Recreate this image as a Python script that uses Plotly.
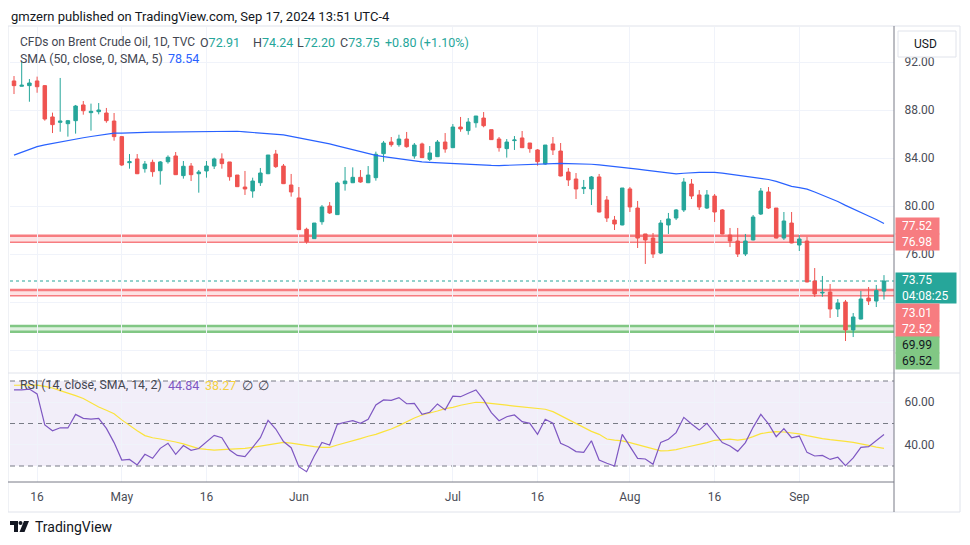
import plotly.graph_objects as go

# page has an 8px body margin; figure is sized to the remaining viewport
OFF = 8
W, H = 970 - OFF, 545 - OFF

def fx(px):
    return (px - OFF) / W

def fy(py):
    return 1 - (py - OFF) / H

# ---------------- DATA ----------------
bar_index = list(range(114))
tick_index = [3, 14, 25, 37, 57, 68, 80, 91, 102]
tick_labels = ["16", "May", "16", "Jun", "Jul", "16", "Aug", "16", "Sep"]

open_ = [90.42, 89.98, 90.03, 90.42, 90.03, 87.42, 86.97, 86.86, 87.11, 88.42,
         87.78, 87.86, 87.75, 87.08, 85.78, 83.61, 83.92, 83.11, 83.64, 82.94,
         83.69, 84.17, 82.53, 83.33, 82.69, 82.92, 83.33, 83.92, 83.67, 82.58,
         81.58, 81.25, 81.94, 82.69, 84.33, 83.33, 81.75, 80.67, 78.06, 77.28,
         78.69, 80.00, 79.28, 81.86, 81.94, 82.39, 81.94, 82.36, 84.36, 85.33,
         85.11, 85.58, 84.17, 85.17, 83.89, 84.11, 85.33, 84.86, 86.58, 86.28,
         86.94, 87.33, 86.36, 85.58, 84.78, 85.45, 85.67, 85.25, 84.67, 83.50,
         85.17, 84.58, 82.83, 82.25, 81.45, 81.42, 82.42, 80.50, 78.83, 78.42,
         81.42, 79.83, 77.67, 77.33, 76.08, 78.42, 79.00, 79.67, 81.83, 80.92,
         79.83, 80.83, 79.67, 77.58, 77.08, 76.00, 77.17, 79.33, 81.17, 79.83,
         77.33, 78.58, 76.75, 77.08, 73.75, 72.75, 72.83, 71.42, 72.00, 69.67,
         70.58, 72.33, 72.08, 72.91]
high = [90.83, 92.00, 90.58, 90.78, 90.08, 87.78, 90.67, 87.17, 88.42, 88.75,
        88.53, 88.58, 88.17, 87.75, 85.83, 84.33, 84.33, 83.75, 83.86, 83.75,
        84.22, 84.50, 83.75, 83.58, 83.00, 83.75, 84.03, 84.39, 83.67, 82.58,
        82.92, 82.36, 83.17, 84.25, 84.67, 83.50, 82.67, 81.58, 78.19, 78.58,
        80.08, 80.33, 82.03, 83.25, 83.22, 83.00, 83.33, 84.53, 85.42, 85.75,
        85.94, 86.17, 85.25, 85.28, 85.00, 85.50, 86.08, 86.83, 87.42, 87.33,
        87.50, 87.83, 86.36, 85.75, 85.58, 85.83, 86.25, 85.25, 84.75, 85.08,
        85.75, 85.25, 83.17, 82.75, 82.17, 82.50, 82.67, 80.83, 79.17, 81.50,
        81.58, 80.42, 77.67, 77.75, 78.83, 79.42, 79.75, 82.33, 82.25, 81.33,
        81.33, 81.00, 79.75, 78.17, 78.17, 77.67, 79.25, 81.50, 81.58, 79.83,
        79.50, 79.50, 77.58, 77.42, 74.83, 74.17, 73.50, 72.25, 72.17, 71.08,
        72.92, 73.25, 73.42, 74.24]
low = [89.33, 89.96, 88.69, 89.44, 87.11, 86.08, 86.19, 85.78, 86.03, 87.61,
       86.28, 87.64, 86.94, 85.44, 83.33, 83.11, 82.66, 82.78, 82.44, 81.78,
       83.53, 82.58, 82.28, 82.08, 81.11, 82.36, 83.08, 83.11, 82.11, 81.58,
       80.92, 80.69, 81.67, 82.66, 83.17, 81.83, 80.78, 78.00, 76.86, 77.25,
       78.44, 79.33, 79.25, 81.28, 81.91, 81.94, 81.91, 82.11, 83.69, 84.94,
       84.94, 84.86, 83.94, 84.00, 83.75, 84.08, 84.44, 84.83, 86.19, 85.94,
       86.53, 86.56, 85.50, 84.53, 84.03, 84.67, 84.83, 84.44, 83.36, 83.42,
       84.25, 82.47, 81.67, 80.58, 81.00, 80.08, 79.47, 78.67, 78.00, 78.39,
       79.50, 76.50, 75.17, 75.67, 76.00, 77.67, 78.83, 79.50, 80.58, 79.67,
       79.75, 78.67, 77.64, 76.58, 75.75, 75.83, 77.14, 79.25, 79.75, 77.30,
       77.17, 76.89, 76.25, 73.64, 72.42, 72.44, 70.67, 70.75, 68.75, 69.08,
       70.55, 71.75, 71.58, 72.20]
close = [90.03, 90.06, 90.25, 89.94, 87.25, 86.78, 87.08, 87.11, 88.33, 87.94,
         87.89, 88.00, 87.11, 85.78, 83.42, 83.69, 82.69, 83.50, 82.86, 83.67,
         84.06, 82.61, 83.31, 82.61, 82.83, 83.33, 83.92, 83.53, 82.44, 81.61,
         81.42, 82.08, 82.75, 84.25, 83.28, 81.86, 81.17, 78.03, 77.03, 78.58,
         79.92, 79.42, 81.92, 82.08, 82.39, 82.00, 82.58, 84.31, 85.25, 85.11,
         85.58, 84.94, 85.08, 84.03, 84.42, 85.33, 84.75, 86.58, 86.42, 87.00,
         87.50, 86.69, 85.53, 84.86, 85.33, 85.50, 84.86, 84.78, 83.69, 85.08,
         84.67, 82.50, 82.17, 81.42, 81.55, 82.42, 79.50, 79.00, 78.50, 81.50,
         79.92, 77.33, 77.17, 76.00, 78.58, 78.92, 79.67, 82.00, 80.83, 79.92,
         80.92, 79.50, 77.67, 77.08, 76.00, 77.08, 79.08, 81.25, 79.83, 77.33,
         78.75, 76.92, 77.25, 73.67, 72.67, 72.80, 71.42, 71.92, 69.67, 70.75,
         72.25, 72.08, 72.95, 73.75]
sma50 = [84.24, 84.47, 84.72, 84.95, 85.09, 85.22, 85.34, 85.47, 85.59, 85.69,
         85.79, 85.89, 85.99, 86.07, 86.08, 86.11, 86.13, 86.15, 86.15, 86.16,
         86.17, 86.18, 86.19, 86.20, 86.21, 86.23, 86.24, 86.26, 86.27, 86.23,
         86.18, 86.14, 86.09, 86.05, 86.00, 85.92, 85.80, 85.68, 85.56, 85.43,
         85.30, 85.18, 85.01, 84.85, 84.68, 84.52, 84.35, 84.22, 84.12, 84.02,
         83.93, 83.84, 83.76, 83.68, 83.64, 83.60, 83.57, 83.53, 83.50, 83.47,
         83.44, 83.41, 83.38, 83.37, 83.40, 83.42, 83.45, 83.48, 83.51, 83.53,
         83.54, 83.56, 83.53, 83.52, 83.50, 83.48, 83.42, 83.36, 83.29, 83.23,
         83.17, 83.08, 82.99, 82.90, 82.80, 82.70, 82.67, 82.73, 82.80, 82.81,
         82.81, 82.81, 82.74, 82.65, 82.55, 82.46, 82.38, 82.29, 82.21, 82.05,
         81.85, 81.64, 81.53, 81.41, 81.17, 80.92, 80.66, 80.37, 80.05, 79.73,
         79.44, 79.16, 78.88, 78.54]
rsi = [65.8, 65.8, 66.2, 63.9, 49.3, 46.6, 48.0, 47.9, 54.3, 52.4,
       52.1, 52.4, 47.7, 41.0, 32.8, 33.1, 30.5, 35.5, 33.6, 38.3,
       40.7, 35.5, 39.6, 37.4, 38.2, 41.5, 44.4, 43.3, 37.5, 35.0,
       34.4, 38.8, 43.3, 51.5, 47.4, 41.5, 38.6, 29.7, 27.3, 34.7,
       41.1, 39.9, 49.6, 50.6, 51.3, 50.1, 52.0, 58.7, 61.1, 60.9,
       62.2, 59.3, 59.5, 54.3, 55.3, 59.2, 56.4, 62.9, 62.6, 64.2,
       65.8, 61.1, 55.1, 51.3, 53.2, 54.0, 50.9, 50.1, 44.9, 52.0,
       50.1, 40.7, 39.1, 36.8, 36.4, 41.9, 32.8, 31.3, 30.0, 44.9,
       39.1, 33.6, 33.3, 30.8, 41.1, 42.6, 45.7, 52.9, 49.8, 46.9,
       50.1, 45.7, 41.0, 39.4, 36.9, 41.0, 48.2, 54.3, 49.8, 43.8,
       47.6, 43.3, 44.1, 36.4, 34.7, 35.0, 33.1, 34.1, 30.2, 33.8,
       38.8, 39.1, 41.9, 44.84]
rsi_sma = [68.0, 68.1, 68.1, 68.1, 67.5, 66.7, 65.5, 64.4, 63.1, 61.8,
           59.8, 57.8, 56.2, 54.6, 51.7, 49.0, 46.6, 44.3, 43.3, 42.7,
           42.1, 41.3, 40.4, 39.3, 38.2, 37.8, 37.5, 37.7, 37.8, 38.0,
           38.3, 38.8, 39.4, 40.2, 40.8, 41.1, 40.8, 40.2, 39.4, 39.1,
           38.8, 38.8, 39.9, 40.8, 41.9, 42.9, 44.0, 44.9, 46.2, 47.4,
           49.0, 50.9, 52.6, 54.0, 54.8, 55.9, 57.0, 57.6, 58.6, 59.3,
           60.0, 59.8, 59.3, 58.9, 58.6, 58.2, 57.8, 57.5, 57.1, 56.7,
           55.6, 53.8, 52.0, 50.1, 48.2, 46.3, 44.9, 42.7, 42.2, 41.8,
           41.0, 40.0, 38.9, 38.0, 37.1, 37.2, 37.7, 38.6, 39.4, 40.0,
           41.0, 42.1, 42.4, 42.6, 42.2, 42.6, 43.8, 45.2, 45.8, 46.2,
           46.0, 45.7, 45.1, 44.3, 43.5, 42.9, 42.4, 42.1, 41.6, 41.1,
           40.5, 39.7, 38.9, 38.27]
red_zone_a = [76.98, 77.52]
red_zone_b = [72.52, 73.01]
green_zone = [69.52, 69.99]
last_price = 73.75
rsi_levels = [70, 50, 30]
price_ticks = [68, 72, 76, 80, 84, 88, 92]
price_ticktext = ["", "", "76.00", "80.00", "84.00", "88.00", "92.00"]
rsi_ticks = [40, 60]
rsi_ticktext = ["40.00", "60.00"]

# ---------------- STYLE ----------------
GREEN = "#26a69a"
RED = "#ef5350"
BLUE = "#2962ff"
PURPLE = "#7e57c2"
YELLOW = "#fbe33b"
GRID = "#f0f3fa"
TXT = "#131722"
FONT = "Roboto"

X0, X1 = 10, 894          # plot area in page px
PY0, PY1 = 27, 372        # price pane
RY0, RY1 = 374, 482       # rsi pane
XR = [-0.52, 114.3]

fig = go.Figure()

fig.add_trace(go.Candlestick(
    x=bar_index, open=open_, high=high, low=low, close=close,
    increasing=dict(line=dict(color=GREEN, width=1), fillcolor=GREEN),
    decreasing=dict(line=dict(color=RED, width=1), fillcolor=RED),
    whiskerwidth=0, showlegend=False, hoverinfo="skip",
    xaxis="x", yaxis="y"))
fig.add_trace(go.Scatter(x=bar_index, y=sma50, mode="lines",
                         line=dict(color=BLUE, width=1.2), showlegend=False,
                         hoverinfo="skip", xaxis="x", yaxis="y"))
fig.add_trace(go.Scatter(x=bar_index, y=rsi_sma, mode="lines",
                         line=dict(color=YELLOW, width=1.2), showlegend=False,
                         hoverinfo="skip", xaxis="x2", yaxis="y2"))
fig.add_trace(go.Scatter(x=bar_index, y=rsi, mode="lines",
                         line=dict(color=PURPLE, width=1.2), showlegend=False,
                         hoverinfo="skip", xaxis="x2", yaxis="y2"))

shapes = []
dx0, dx1 = fx(X0), fx(X1)
for lo, hi_, lc, fc, wlo, whi in [
        (red_zone_a[0], red_zone_a[1], "#f77c80", "rgba(247,124,128,0.22)", 1.5, 2.5),
        (red_zone_b[0], red_zone_b[1], "#f77c80", "rgba(247,124,128,0.22)", 1.5, 2.5),
        (green_zone[0], green_zone[1], "#81c784", "rgba(129,199,132,0.25)", 2.5, 2.5)]:
    shapes.append(dict(type="rect", xref="paper", yref="y", x0=dx0, x1=dx1,
                       y0=lo, y1=hi_, fillcolor=fc, line=dict(width=0), layer="below"))
    shapes.append(dict(type="line", xref="paper", yref="y", x0=dx0, x1=dx1,
                       y0=hi_, y1=hi_, line=dict(color=lc, width=whi), layer="below"))
    shapes.append(dict(type="line", xref="paper", yref="y", x0=dx0, x1=dx1,
                       y0=lo, y1=lo, line=dict(color=lc, width=wlo), layer="below"))
shapes.append(dict(type="line", xref="paper", yref="y", x0=dx0, x1=dx1,
                   y0=last_price, y1=last_price,
                   line=dict(color=GREEN, width=1, dash="dot"), layer="below"))
shapes.append(dict(type="rect", xref="paper", yref="y2", x0=dx0, x1=dx1,
                   y0=rsi_levels[2], y1=rsi_levels[0],
                   fillcolor="rgba(126,87,194,0.10)", line=dict(width=0), layer="below"))
for lv in rsi_levels:
    shapes.append(dict(type="line", xref="paper", yref="y2", x0=dx0, x1=dx1,
                       y0=lv, y1=lv, line=dict(color="#787b86", width=1, dash="5px,4px"),
                       layer="below"))
shapes.append(dict(type="rect", xref="paper", yref="paper", x0=fx(8), x1=fx(960),
                   y0=fy(512), y1=fy(26), line=dict(color="#e0e3eb", width=1)))
shapes.append(dict(type="line", xref="paper", yref="paper", x0=fx(8), x1=fx(960),
                   y0=fy(373), y1=fy(373), line=dict(color="#e0e3eb", width=1)))
shapes.append(dict(type="line", xref="paper", yref="paper", x0=fx(894), x1=fx(894),
                   y0=fy(512), y1=fy(26), line=dict(color="#787b86", width=1)))
shapes.append(dict(type="line", xref="paper", yref="paper", x0=fx(8), x1=fx(894),
                   y0=fy(482), y1=fy(482), line=dict(color="#787b86", width=1)))
shapes.append(dict(type="rect", xref="paper", yref="paper", x0=fx(898), x1=fx(956),
                   y0=fy(57), y1=fy(31), fillcolor="white",
                   line=dict(color="#e0e3eb", width=1), layer="above"))
# TradingView logo
shapes.append(dict(type="path", xref="paper", yref="paper",
                   path=f"M {fx(10)},{fy(521)} L {fx(18)},{fy(521)} L {fx(18)},{fy(532)} L {fx(14)},{fy(532)} L {fx(14)},{fy(525)} L {fx(10)},{fy(525)} Z",
                   fillcolor=TXT, line=dict(width=0)))
shapes.append(dict(type="circle", xref="paper", yref="paper",
                   x0=fx(18.5), x1=fx(22.5), y0=fy(525), y1=fy(521),
                   fillcolor=TXT, line=dict(width=0)))
shapes.append(dict(type="path", xref="paper", yref="paper",
                   path=f"M {fx(24)},{fy(521)} L {fx(29)},{fy(521)} L {fx(24.5)},{fy(532)} L {fx(19.5)},{fy(532)} Z",
                   fillcolor=TXT, line=dict(width=0)))

ann = []

def text(x, y, s, size=12.5, color=TXT, anchor="left", yanchor="middle", pad=1):
    ann.append(dict(xref="paper", yref="paper", x=fx(x), y=fy(y), text=s,
                    showarrow=False, xanchor=anchor, yanchor=yanchor, borderpad=pad,
                    font=dict(family=FONT, size=size, color=color)))

def g(s):
    return f"<span style='color:{GREEN}'>{s}</span>"

LEG = "#434651"
text(10, 8, "gmzern published on TradingView.com, Sep 17, 2024 13:51 UTC-4", 13, TXT,
     yanchor="top", pad=0)
text(18, 42, "CFDs on Brent Crude Oil, 1D, TVC", 12, LEG)
text(198, 42, "O" + g("72.91"), 12.5, LEG)
text(251, 42, "H" + g("74.24"), 12.5, LEG)
text(295, 42, "L" + g("72.20"), 12.5, LEG)
text(338, 42, "C" + g("73.75"), 12.5, LEG)
text(383, 42, "+0.80 (+1.10%)", 12.5, GREEN)
text(18, 59, "SMA (50, close, 0, SMA, 5)", 12.3, LEG)
text(166, 59, "78.54", 12.5, BLUE)
text(18, 385, "RSI (14, close, SMA, 14, 2)", 12.3, LEG)
text(166, 385, "44.84", 12.5, PURPLE)
text(203, 385, "38.27", 12.5, "#f4d03f")
text(240, 385, "∅", 12.5, LEG)
text(256, 385, "∅", 12.5, LEG)
text(912, 44, "USD", 12, TXT)
text(33, 527, "TradingView", 14, TXT)

def label(y0, y1, s, bg, fg, w=43):
    ann.append(dict(xref="paper", yref="paper", x=fx(895), y=fy((y0 + y1) / 2),
                    text=s, showarrow=False, xanchor="left", yanchor="middle",
                    align="left", bgcolor=bg, borderpad=0, width=w,
                    height=y1 - y0,
                    font=dict(family=FONT, size=12, color=fg)))

label(218, 234, "  77.52", "#f77c80", "white")
label(234, 250, "  76.98", "#f77c80", "white")
label(273, 303, "  73.75<br>  04:08:25", GREEN, "white", w=60)
label(304, 321, "  73.01", "#f77c80", "white")
label(321, 337, "  72.52", "#f77c80", "white")
label(337, 353, "  69.99", "#81c784", TXT)
label(353, 369, "  69.52", "#81c784", TXT)

fig.update_layout(
    width=W, height=H, margin=dict(l=0, r=0, t=0, b=0),
    paper_bgcolor="white", plot_bgcolor="white",
    font=dict(family=FONT, size=12, color=TXT),
    shapes=shapes, annotations=ann, showlegend=False, boxgap=0.35,
    xaxis=dict(domain=[dx0, dx1], range=XR, anchor="y",
               rangeslider=dict(visible=False), tickvals=tick_index,
               ticktext=tick_labels, showticklabels=False, showgrid=True,
               gridcolor=GRID, zeroline=False, showline=False, fixedrange=True),
    yaxis=dict(domain=[fy(PY1), fy(PY0)], range=[76 - (PY1 - 254) / 12, 76 + (254 - PY0) / 12],
               anchor="x", side="right", tickvals=price_ticks, ticktext=price_ticktext,
               ticks="outside", ticklen=7, tickcolor="rgba(0,0,0,0)",
               showgrid=True, gridcolor=GRID, zeroline=False, showline=False,
               tickfont=dict(family=FONT, size=12, color="#4a4d57")),
    xaxis2=dict(domain=[dx0, dx1], range=XR, anchor="y2",
                tickvals=tick_index, ticktext=tick_labels, ticks="outside",
                ticklen=4, tickcolor="rgba(0,0,0,0)", showgrid=True, gridcolor=GRID,
                zeroline=False, showline=False,
                tickfont=dict(family=FONT, size=12, color="#4a4d57")),
    yaxis2=dict(domain=[fy(RY1), fy(RY0)],
                range=[30 - (RY1 - 466) / 2.125, 70 + (381 - RY0) / 2.125],
                anchor="x2", side="right", tickvals=rsi_ticks, ticktext=rsi_ticktext,
                ticks="outside", ticklen=7, tickcolor="rgba(0,0,0,0)",
                showgrid=True, gridcolor=GRID, zeroline=False, showline=False,
                tickfont=dict(family=FONT, size=12, color="#4a4d57")),
)

fig.write_html("out.html")
